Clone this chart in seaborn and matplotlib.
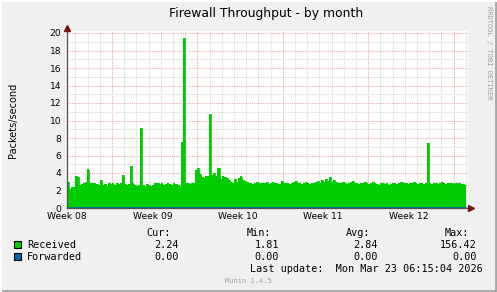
import numpy as np
import pandas as pd
import matplotlib
matplotlib.use("Agg")
import matplotlib.pyplot as plt
from matplotlib.patches import Rectangle
from matplotlib.lines import Line2D
import seaborn as sns

# ---- data (4-hour samples, days from start of Week 08) ----
step_days = 1.0 / 6.0
received = [
    3.0, 2.2, 2.4, 2.4, 3.7, 3.5, 2.6, 2.7, 2.9, 3.0, 4.4, 2.9,
    2.8, 2.9, 2.7, 2.6, 3.2, 2.6, 2.7, 2.5, 2.9, 2.7, 2.8, 2.6,
    2.9, 2.7, 2.8, 3.8, 2.7, 2.6, 2.7, 4.8, 2.8, 2.6, 2.5, 2.6,
    9.1, 2.6, 2.5, 2.7, 2.6, 2.5, 2.6, 2.8, 2.9, 2.7, 2.8, 2.6,
    2.7, 2.8, 2.7, 2.6, 2.8, 2.7, 2.6, 2.5, 7.6, 19.4, 2.8, 2.9,
    2.7, 2.9, 2.8, 4.3, 4.6, 3.9, 3.5, 3.4, 3.7, 3.6, 10.8, 3.8,
    4.0, 3.6, 4.6, 3.3, 3.6, 3.5, 3.4, 3.2, 3.0, 2.9, 3.3, 3.0,
    3.4, 3.6, 3.2, 3.1, 3.0, 2.9, 2.8, 2.7, 2.9, 3.0, 2.8, 2.9,
    2.8, 2.9, 3.0, 2.7, 2.8, 3.0, 2.9, 2.8, 2.7, 3.1, 2.9, 2.8,
    2.8, 2.7, 2.9, 3.0, 3.1, 2.9, 2.8, 2.7, 2.9, 3.0, 2.8, 2.7,
    2.8, 2.9, 3.0, 3.1, 2.9, 3.2, 3.0, 3.3, 3.1, 3.5, 3.0, 3.2,
    3.0, 2.9, 2.8, 3.0, 2.9, 2.7, 2.8, 3.0, 3.1, 2.9, 2.8, 2.7,
    2.8, 2.9, 3.0, 2.8, 2.7, 2.9, 3.0, 2.8, 2.7, 2.6, 2.8, 2.9,
    2.7, 2.8, 2.6, 2.7, 2.9, 2.8, 2.7, 2.9, 3.0, 2.8, 2.9, 2.7,
    2.8, 2.9, 3.0, 2.8, 2.7, 2.9, 2.8, 2.7, 2.8, 7.4, 2.8, 2.7,
    2.8, 2.9, 2.7, 2.8, 3.0, 2.8, 2.7, 2.9, 2.8, 2.9, 2.7, 2.8,
    2.9, 2.8, 2.7, 2.6,
]
forwarded = [0.0] * len(received)

week_labels = ["Week 08", "Week 09", "Week 10", "Week 11", "Week 12"]
week_pos = [0, 7, 14, 21, 28]
y_ticks = [0, 2, 4, 6, 8, 10, 12, 14, 16, 18, 20]

legend_names = ["Received", "Forwarded"]
legend_colors = ["#00CC00", "#0066B3"]
stat_headers = ["Cur:", "Min:", "Avg:", "Max:"]
stat_values = [["2.24", "1.81", "2.84", "156.42"],
               ["0.00", "0.00", "0.00", "0.00"]]
last_update = "Last update:  Mon Mar 23 06:15:04 2026"

# ---- figure ----
W, H = 497, 292
bg = "#F0F0F0"
fig = plt.figure(figsize=(W / 100, H / 100), dpi=100, facecolor=bg)

def fx(px):
    return px / W

def fy(py):
    return 1 - py / H

ax_l, ax_r, ax_t, ax_b = 67, 468, 31, 208
ax = fig.add_axes([fx(ax_l), fy(ax_b), (ax_r - ax_l) / W, (ax_b - ax_t) / H])
ax.set_facecolor("white")

n = len(received)
edges = np.arange(n + 1) * step_days
rec_ext = list(received) + [received[-1]]
fwd_ext = list(forwarded) + [forwarded[-1]]
df = pd.DataFrame({"t": edges, "received": rec_ext, "forwarded": fwd_ext})

xmax = (ax_r - ax_l) / 12.2
ymax = (ax_b - ax_t) / 8.75

# grid
minor_col = "#D8D8D8"
major_col = "#F0A8A8"
dots = (0, (1, 1))
first_major = 3.69
for d in np.arange(first_major - 4, xmax, 1.0):
    if d <= 0.05:
        continue
    k = (d - first_major) / 7
    is_major = abs(k - round(k)) < 1e-6
    ax.axvline(d, color=major_col if is_major else minor_col, lw=0.8,
               ls=dots, zorder=0)
for v in range(1, 21):
    ax.axhline(v, color=major_col if v % 2 == 0 else minor_col, lw=0.8,
               ls=dots, zorder=0)

sns.lineplot(data=df, x="t", y="received", drawstyle="steps-post",
             color="#00CC00", lw=0.6, ax=ax, zorder=2)
ax.fill_between(df["t"], 0, df["received"], step="post", color="#00CC00",
                lw=0, zorder=2)
sns.lineplot(data=df, x="t", y="forwarded", color="#0066B3", lw=1.2, ax=ax,
             zorder=3)

ax.set_xlim(0, xmax)
ax.set_ylim(0, ymax)
ax.set_xticks(week_pos)
ax.set_xticklabels(week_labels)
ax.set_yticks(y_ticks)
ax.set_yticklabels([str(v) for v in y_ticks])
ax.tick_params(axis="both", length=0, labelsize=6.6, colors="#000000", pad=3)
ax.tick_params(axis="y", pad=4)
ax.set_xlabel("")
ax.set_ylabel("")
for s in ["top", "right"]:
    ax.spines[s].set_visible(False)
ax.spines["left"].set_color("#505050")
ax.spines["bottom"].set_color("#505050")
ax.spines["left"].set_linewidth(0.9)
ax.spines["bottom"].set_linewidth(0.9)

# axis arrows
ax.plot([0], [1.018], marker="^", color="#7F1010", ms=4, transform=ax.transAxes,
        clip_on=False, zorder=5)
ax.plot([1.008], [0], marker=">", color="#7F1010", ms=4, transform=ax.transAxes,
        clip_on=False, zorder=5)

# titles
fig.text(fx(266), fy(14), "Firewall Throughput - by month", ha="center",
         va="center", fontsize=8.9, color="#000000")
fig.text(fx(13), fy(120), "Packets/second", rotation=90, ha="center",
         va="center", fontsize=7, color="#000000")
fig.text(fx(489), fy(6), "RRDTOOL / TOBI OETIKER", rotation=270, ha="center",
         va="top", fontsize=5.1, color="#A0A0A0", family="DejaVu Sans Mono")

# legend
mono = "DejaVu Sans Mono"
fs = 7.25
col_right_hdr = [171, 271, 370, 469]
col_right_val = [179, 279, 378, 477]
for h, xr in zip(stat_headers, col_right_hdr):
    fig.text(fx(xr), fy(233), h, ha="right", va="center", fontsize=fs,
             family=mono)
rows_y = [244.5, 256.5]
for name, color, vals, yy in zip(legend_names, legend_colors, stat_values, rows_y):
    fig.patches.append(Rectangle((fx(13.5), fy(yy + 3.8)), 7.5 / W, 7.5 / H,
                                 transform=fig.transFigure, facecolor=color,
                                 edgecolor="#000000", lw=0.8))
    fig.text(fx(27), fy(yy), name, ha="left", va="center", fontsize=fs,
             family=mono)
    for v, xr in zip(vals, col_right_val):
        fig.text(fx(xr), fy(yy), v, ha="right", va="center", fontsize=fs,
                 family=mono)
fig.text(fx(483), fy(268.5), last_update, ha="right", va="center", fontsize=fs,
         family=mono)
fig.text(fx(248.5), fy(281), "Munin 1.4.5", ha="center", va="center",
         fontsize=5.1, family=mono, color="#A0A0A0")

# 3D frame
fig.lines.append(Line2D([0, 1], [fy(290.5), fy(290.5)], transform=fig.transFigure,
                        color="#A8A8A8", lw=2))
fig.lines.append(Line2D([fx(495.5), fx(495.5)], [0, 1], transform=fig.transFigure,
                        color="#A8A8A8", lw=2))
fig.lines.append(Line2D([0, 1], [fy(0.5), fy(0.5)], transform=fig.transFigure,
                        color="#FFFFFF", lw=1.5))
fig.lines.append(Line2D([fx(0.5), fx(0.5)], [0, 1], transform=fig.transFigure,
                        color="#FFFFFF", lw=1.5))

fig.savefig("out.png", dpi=100, facecolor=bg)
